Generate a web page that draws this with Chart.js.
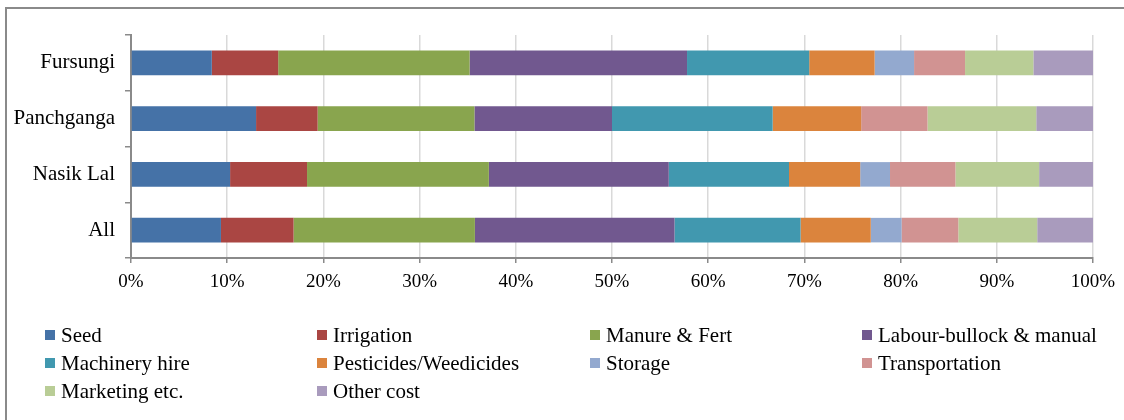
<!DOCTYPE html>
<html>
<head>
<meta charset="utf-8">
<script src="https://cdn.jsdelivr.net/npm/chart.js@4"></script>
<style>
  html, body { margin: 0; padding: 0; background: #fff; }
  #wrap { position: relative; width: 1124px; height: 420px; overflow: hidden; }
  #frame { position: absolute; left: 5px; top: 7px; width: 1130px; height: 420px;
           border-left: 2px solid #8a8a8a; border-top: 2px solid #8a8a8a; box-sizing: border-box; }
  canvas { position: absolute; left: 0; top: 0; }
  #legend { position: absolute; left: 0; top: 0; width: 1124px; height: 420px; pointer-events: none;
            font-family: "Liberation Serif", "Times New Roman", serif; font-size: 21px; color: #000; }
  .item { position: absolute; white-space: nowrap; line-height: 24px; }
  .box { position: absolute; left: -16px; top: 7px; width: 10px; height: 10px; }
</style>
</head>
<body>
<div id="wrap">
  <div id="frame"></div>
  <canvas id="c" width="1124" height="420"></canvas>
  <div id="legend"></div>
</div>
<script>
const categories = ["Fursungi", "Panchganga", "Nasik Lal", "All"];
const seriesNames = ["Seed", "Irrigation", "Manure & Fert", "Labour-bullock & manual", "Machinery hire",
                     "Pesticides/Weedicides", "Storage", "Transportation", "Marketing etc.", "Other cost"];
const seriesColors = ["#4572A7", "#AA4643", "#89A54E", "#71588F", "#4198AF",
                      "#DB843D", "#93A9CF", "#D19392", "#B9CD96", "#A99BBD"];
const seed        = [8.4, 13.0, 10.3, 9.35];
const irrigation  = [6.9, 6.4, 8.0, 7.55];
const manure      = [19.9, 16.3, 18.9, 18.85];
const labour      = [22.6, 14.3, 18.7, 20.75];
const machinery   = [12.7, 16.7, 12.5, 13.1];
const pesticides  = [6.8, 9.2, 7.4, 7.3];
const storage     = [4.1, 0, 3.1, 3.2];
const transport   = [5.3, 6.9, 6.8, 5.9];
const marketing   = [7.1, 11.3, 8.7, 8.2];
const otherCost   = [6.2, 5.9, 5.6, 5.8];
const xTicks = [0, 10, 20, 30, 40, 50, 60, 70, 80, 90, 100];

const seriesValues = [seed, irrigation, manure, labour, machinery, pesticides, storage, transport, marketing, otherCost];

const fam = "'Liberation Serif', 'Times New Roman', serif";

new Chart(document.getElementById('c'), {
  type: 'bar',
  data: {
    labels: categories,
    datasets: seriesNames.map((n, i) => ({
      label: n,
      data: seriesValues[i],
      backgroundColor: seriesColors[i],
      borderWidth: 0,
      barPercentage: 0.44,
      categoryPercentage: 1.0
    }))
  },
  options: {
    indexAxis: 'y',
    responsive: false,
    animation: false,
    devicePixelRatio: 1,
    layout: { padding: { left: 0, right: 31, top: 35, bottom: 0 } },
    plugins: { legend: { display: false }, tooltip: { enabled: false } },
    scales: {
      x: {
        stacked: true, min: 0, max: 100,
        afterBuildTicks: s => { s.ticks = xTicks.map(v => ({ value: v })); },
        afterFit: s => { s.height = 420 - 258; },
        ticks: { callback: v => v + '%', font: { family: fam, size: 19 }, color: '#000', padding: 8, maxRotation: 0 },
        grid: { color: '#d9d9d9', lineWidth: 1.5, tickLength: 5, tickColor: '#8a8a8a' },
        border: { color: '#8a8a8a', width: 2 }
      },
      y: {
        stacked: true,
        afterFit: s => { s.width = 131; },
        ticks: { font: { family: fam, size: 21 }, color: '#000', padding: 10 },
        grid: { drawOnChartArea: false, tickLength: 6, color: '#8a8a8a', lineWidth: 1.5 },
        border: { color: '#8a8a8a', width: 2 }
      }
    }
  }
});

const legend = document.getElementById('legend');
const colX = [61, 333, 606, 878];
const rowY = [323, 351, 379];
seriesNames.forEach((n, i) => {
  const d = document.createElement('div');
  d.className = 'item';
  d.style.left = colX[i % 4] + 'px';
  d.style.top = rowY[Math.floor(i / 4)] + 'px';
  d.innerHTML = '<span class="box" style="background:' + seriesColors[i] + '"></span>';
  d.appendChild(document.createTextNode(n));
  legend.appendChild(d);
});
</script>
</body>
</html>
